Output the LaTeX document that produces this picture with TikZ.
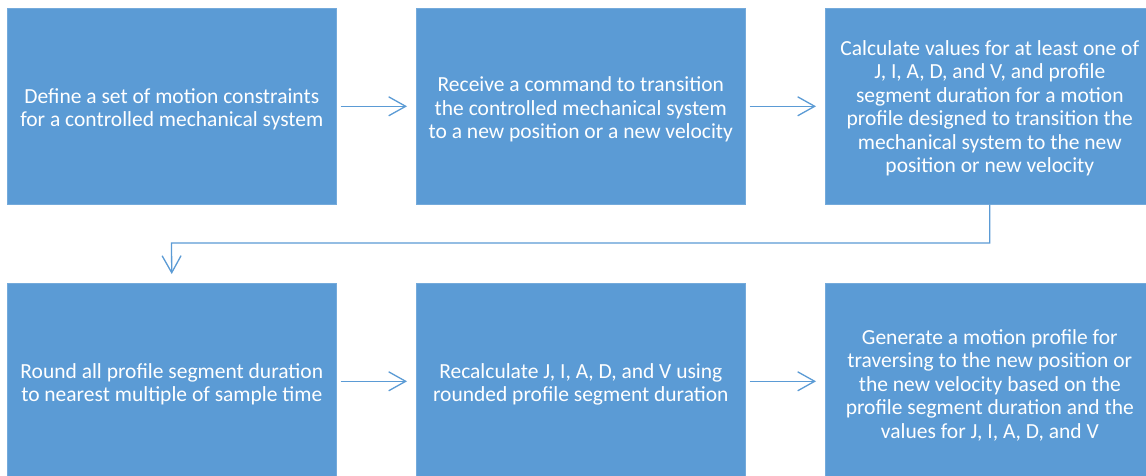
\documentclass[tikz,border=0pt]{standalone}
\usepackage{fontspec}
\setmainfont{Carlito}
\usetikzlibrary{arrows.meta}
\definecolor{boxblue}{HTML}{5B9BD5}
\tikzset{
  stepbox/.style={fill=boxblue, draw=boxblue!85!white, line width=0.6pt, minimum width=329pt, minimum height=196pt,
    inner sep=0pt, anchor=north west},
  steptext/.style={inner sep=0pt, text=white, align=center, font=\fontsize{21.5}{23.4}\selectfont},
  arr/.style={draw=boxblue, line width=1.3pt, -{Straight Barb[length=17pt,width=19pt,line width=1.3pt]}}
}
\begin{document}
\begin{tikzpicture}[x=1pt,y=-1pt]
\useasboundingbox[fill=white] (0,0) rectangle (1146,476);
\begin{scope}
\clip (0,0) rectangle (1146,476);
\node[stepbox] (b1) at (7,8) {};
\node[stepbox] (b2) at (416,8) {};
\node[stepbox] (b3) at (825,8) {};
\node[stepbox] (b4) at (7,283) {};
\node[stepbox] (b5) at (416,283) {};
\node[stepbox] (b6) at (825,283) {};
\node[steptext] (t1) at ([yshift=-3pt]b1.center) {Define a set of motion constraints\\for a controlled mechanical system};
\node[steptext] (t2) at ([yshift=-3pt]b2.center) {Receive a command to transition\\the controlled mechanical system\\to a new position or a new velocity};
\node[steptext] (t3) at ([yshift=-2pt]b3.center) {Calculate values for at least one of\\J, I, A, D, and V, and profile\\segment duration for a motion\\profile designed to transition the\\mechanical system to the new\\position or new velocity};
\node[steptext] (t4) at ([yshift=-3pt]b4.center) {Round all profile segment duration\\to nearest multiple of sample time};
\node[steptext] (t5) at ([yshift=-3pt]b5.center) {Recalculate J, I, A, D, and V using\\rounded profile segment duration};
\node[steptext] (t6) at ([yshift=-4pt]b6.center) {Generate a motion profile for\\traversing to the new position or\\the new velocity based on the\\profile segment duration and the\\values for J, I, A, D, and V};
\end{scope}
\draw[arr, shorten <=4pt, shorten >=9pt] (b1.east) -- (b2.west);
\draw[arr, shorten <=4pt, shorten >=9pt] (b2.east) -- (b3.west);
\draw[arr, shorten <=4pt, shorten >=9pt] (b4.east) -- (b5.west);
\draw[arr, shorten <=4pt, shorten >=9pt] (b5.east) -- (b6.west);
\coordinate (m) at (171.5,243);
\draw[arr, shorten >=9pt] (b3.south) |- (m) -- (b4.north);
\end{tikzpicture}
\end{document}
